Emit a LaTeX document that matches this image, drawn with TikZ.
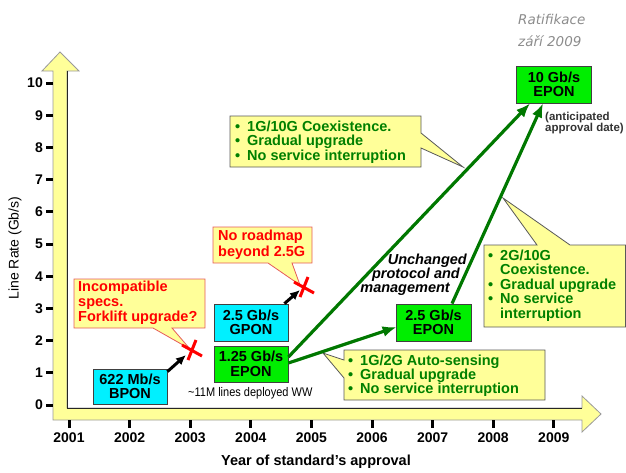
\documentclass[tikz,border=0pt]{standalone}
\usepackage{fontspec}
\setmainfont{Liberation Sans}
\newfontfamily\narrowfont[FakeStretch=0.88]{Liberation Sans}
\newfontfamily\ratfont{DejaVu Sans}
\usetikzlibrary{arrows.meta,calc}
\pgfdeclarelayer{axislayer}
\pgfdeclarelayer{shapelayer}
\pgfsetlayers{axislayer,shapelayer,main}
\definecolor{axisyellow}{RGB}{255,255,153}
\definecolor{callyellow}{RGB}{255,255,153}
\definecolor{boxgreen}{RGB}{0,238,0}
\definecolor{boxcyan}{RGB}{0,240,255}
\definecolor{textgreen}{RGB}{0,128,0}
\definecolor{arrowgreen}{RGB}{0,120,0}
\definecolor{callred}{RGB}{230,90,90}
\definecolor{ratgray}{RGB}{140,140,140}
\newcommand{\bul}[1]{\makebox[12pt][l]{\textbullet}#1}
\newcommand{\bulcont}[1]{\hspace*{12pt}#1}
\begin{document}
\begin{tikzpicture}[x=1pt,y=-1pt,
  stdbox/.style={draw=black!75, line width=0.8pt, minimum width=74pt, minimum height=36pt,
    inner sep=0pt, align=center, font=\fontsize{14.5}{14.5}\selectfont\bfseries},
  greenbox/.style={stdbox, fill=boxgreen},
  cyanbox/.style={stdbox, fill=boxcyan},
  calltext/.style={anchor=north west, inner sep=0pt, align=left},
  redcall/.style={fill=callyellow, draw=callred, line width=0.8pt},
  greencall/.style={fill=callyellow, draw=black!65, line width=0.8pt},
  greenarrow/.style={draw=arrowgreen, line width=3.2pt, -{Latex[length=14pt,width=11pt]}},
  blackarrow/.style={draw=black, line width=3pt, -{Latex[length=10pt,width=9pt]}},
  redx/.style={draw=red, line width=3pt},
  ticklabel/.style={font=\fontsize{14}{14}\selectfont\bfseries, inner sep=0pt},
  tickmark/.style={draw=black, line width=3pt}
]
\useasboundingbox (0,0) rectangle (626,472);

% axes
\begin{pgfonlayer}{axislayer}
\filldraw[fill=axisyellow, draw=black!40, line width=0.8pt, line join=miter]
  (53,420) -- (53,71) -- (42,71) -- (60,52) -- (79,71) -- (67,71) -- (67,408)
  -- (582,408) -- (582,396) -- (601,414) -- (582,432) -- (582,420) -- cycle;
\draw[black!85, line width=1pt] (67,71) -- (67,408) -- (582,408);
\end{pgfonlayer}

\foreach \i in {0,...,10} {
  \draw[tickmark] (46,405-32.2*\i) -- (53,405-32.2*\i);
  \node[ticklabel, anchor=east] (yl\i) at (43,405-32.2*\i) {\i};
}
\foreach \i in {0,...,8} {
  \pgfmathtruncatemacro{\yr}{2001+\i}
  \draw[tickmark] (69+60.6*\i,420) -- (69+60.6*\i,428);
  \node[ticklabel] (xl\i) at (69+60.6*\i,438) {\yr};
}
\node[font=\fontsize{14.5}{14.5}\selectfont\bfseries, inner sep=0pt] (xtitle) at (316,462) {Year of standard’s approval};
\node[font=\fontsize{14}{14}\selectfont, rotate=90, inner sep=0pt] (ytitle) at (15,248) {Line Rate (Gb/s)};

% boxes
\node[cyanbox, minimum height=35pt] (bpon) at (130,386.5) {622 Mb/s\\BPON};
\node[cyanbox, minimum height=37pt] (gpon) at (251,322.5) {2.5 Gb/s\\GPON};
\node[greenbox] (epon1) at (251,364) {1.25 Gb/s\\EPON};
\node[greenbox, minimum width=75pt, minimum height=37pt] (epon25) at (433.5,322.5) {2.5 Gb/s\\EPON};
\node[greenbox, minimum width=75pt, minimum height=37pt] (epon10) at (554,84.5) {10 Gb/s\\EPON};

% red X marks
\coordinate (x1) at (192,350);
\coordinate (x2) at (304,287);
\draw[redx] ($(x1)+(-10,-5)$) -- ($(x1)+(10,6)$);
\draw[redx] ($(x1)+(-4,10)$) -- ($(x1)+(4,-10)$);
\draw[redx] ($(x2)+(-10,-5)$) -- ($(x2)+(10,6)$);
\draw[redx] ($(x2)+(-4,10)$) -- ($(x2)+(4,-10)$);

% black arrows
\coordinate (b1) at ($(x1)+(-6,5)$);
\coordinate (b2) at ($(x2)+(-4,3)$);
\draw[blackarrow] ($(bpon.north east)+(0,3)$) -- (b1);
\draw[blackarrow] ($(gpon.north east)+(-4,0)$) -- (b2);

% callout shapes
\begin{pgfonlayer}{shapelayer}
\filldraw[redcall] (74,279) -- (205,279) -- (205,328) -- (172,328) -- (190,349) -- (153,328) -- (74,328) -- cycle;
\filldraw[redcall] (213,227) -- (312,227) -- (312,263) -- (292,263) -- (300,285) -- (268,263) -- (213,263) -- cycle;
\filldraw[greencall] (230,116) -- (421,116) -- (421,133) -- (463,167) -- (421,148) -- (421,167) -- (230,167) -- cycle;
\filldraw[greencall] (484,245) -- (537,245) -- (503,198) -- (570,245) -- (625.6,245) -- (625.6,327) -- (484,327) -- cycle;
\filldraw[greencall] (344,350) -- (545,350) -- (545,400) -- (344,400) -- (344,378) -- (323,353) -- (344,360) -- cycle;
\end{pgfonlayer}

% callout texts
\node[calltext, text=red, font=\fontsize{14.5}{15}\selectfont\bfseries] (c1) at (78,280.7)
  {Incompatible\\specs.\\Forklift upgrade?};
\node[calltext, text=red, font=\fontsize{14.5}{16.5}\selectfont\bfseries] (c2) at (218,229.7)
  {No roadmap\\beyond 2.5G};
\node[calltext, text=textgreen, font=\fontsize{14.5}{14.5}\selectfont\bfseries] (c3) at (235,120.7)
  {\bul{1G/10G Coexistence.}\\\bul{Gradual upgrade}\\\bul{No service interruption}};
\node[calltext, text=textgreen, font=\fontsize{14.5}{14.5}\selectfont\bfseries] (c4) at (488,249.7)
  {\bul{2G/10G}\\\bulcont{Coexistence.}\\\bul{Gradual upgrade}\\\bul{No service}\\\bulcont{interruption}};
\node[calltext, text=textgreen, font=\fontsize{14.5}{14}\selectfont\bfseries] (c5) at (348,354.7)
  {\bul{1G/2G Auto-sensing}\\\bul{Gradual upgrade}\\\bul{No service interruption}};

% green arrows
\coordinate (t1) at ($(epon10.south)+(-24,0)$);
\coordinate (t2) at ($(epon10.south)+(-11,0)$);
\coordinate (t3) at ($(epon25.west)+(1,4.5)$);
\draw[greenarrow] ($(epon1.east)+(0,-7)$) -- (t1);
\draw[greenarrow] ($(epon1.east)+(0,-1)$) -- (t3);
\draw[greenarrow] ($(epon25.north)+(18.5,0)$) -- (t2);

% other texts
\node[font=\fontsize{14.5}{14.5}\selectfont\bfseries\itshape, anchor=east, inner sep=0pt] (u1) at (467,261) {Unchanged};
\node[font=\fontsize{14.5}{14.5}\selectfont\bfseries\itshape, anchor=east, inner sep=0pt] (u2) at (460,275) {protocol and};
\node[font=\fontsize{14.5}{14.5}\selectfont\bfseries\itshape, anchor=east, inner sep=0pt] (u3) at (450,289) {management};
\node[font=\narrowfont\fontsize{12.5}{12.5}\selectfont, anchor=west, inner sep=0pt] (ww) at (188,393) {\textasciitilde 11M lines deployed WW};
\node[font=\fontsize{11.5}{11.2}\selectfont\bfseries, text=black!80, anchor=north west, inner sep=0pt, align=left] (ant) at (545,112) {(anticipated\\approval date)};
\node[font=\ratfont\fontsize{13.5}{13.5}\selectfont\itshape, text=ratgray, anchor=west, inner sep=0pt] (r1) at (518,19) {Ratifikace};
\node[font=\ratfont\fontsize{13.5}{13.5}\selectfont\itshape, text=ratgray, anchor=west, inner sep=0pt] (r2) at (518,41) {září 2009};
\end{tikzpicture}
\end{document}
